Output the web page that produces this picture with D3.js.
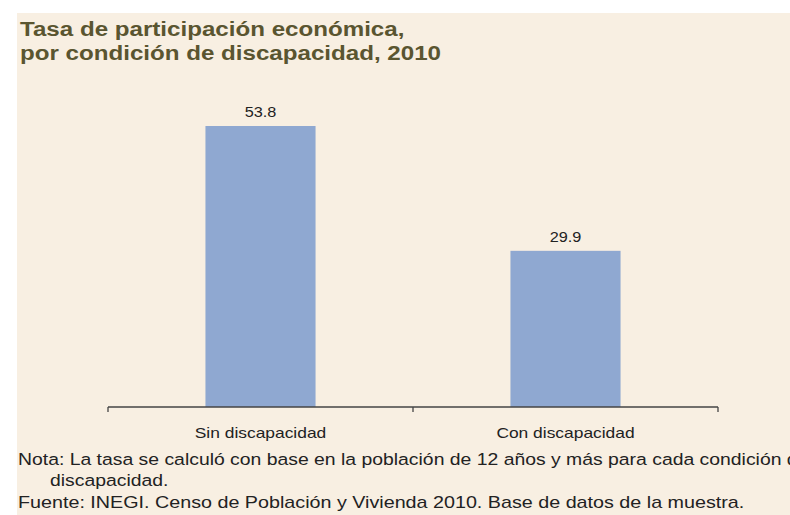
<!DOCTYPE html>
<html>
<head>
<meta charset="utf-8">
<script src="https://cdn.jsdelivr.net/npm/d3@7"></script>
<style>
	body { margin: 0; background: #ffffff; }
	svg { display: block; }
	text { font-family: "Liberation Sans", Arial, sans-serif; }
</style>
</head>
<body>
<div id="plot"></div>
<script>
var categories = ["Sin discapacidad", "Con discapacidad"];
var values = [53.8, 29.9];
var titleLines = ["Tasa de participación económica,", "por condición de discapacidad, 2010"];
var noteLines = ["Nota: La tasa se calculó con base en la población de 12 años y más para cada condición de", "discapacidad."];
var sourceLine = "Fuente: INEGI. Censo de Población y Vivienda 2010. Base de datos de la muestra.";

var w = 790;
var h = 515;
var baseY = 407;
var stretch = 1.16; // the original picture is a bit wider than tall

var xScale = d3.scaleBand()
			.domain(categories)
			.range([108, 718])
			.paddingInner(0.639)
			.paddingOuter(0.3195);

var yScale = d3.scaleLinear()
			.domain([0, 60])
			.range([baseY, baseY - 60 * 5.223]);

var place = function(x, y, s) {
	return "translate(" + x + "," + y + ") scale(" + (s || stretch) + ",1)";
}

var svgPlot = d3.select("#plot").append("svg").attr("width", w).attr("height", h);

// beige panel
svgPlot.append("rect")
	.attr("x", 17)
	.attr("y", 13)
	.attr("width", w - 17)
	.attr("height", h - 13)
	.attr("fill", "#f8efe2")

svgPlot.selectAll(".title")
	.data(titleLines)
	.enter()
	.append("text")
	.attr("class", "title")
	.attr("transform", function(d, i) { return place(20, 36 + i * 24, 1.15); })
	.attr("font-size", "21px")
	.attr("font-weight", "bold")
	.attr("fill", "#5a5530")
	.text(function(d) { return d; })

svgPlot.selectAll(".bar")
	.data(values)
	.enter()
	.append("rect")
	.attr("class", "bar")
	.attr("x", function(d, i) { return xScale(categories[i]); })
	.attr("y", function(d) { return yScale(d); })
	.attr("width", xScale.bandwidth())
	.attr("height", function(d) { return baseY - yScale(d); })
	.attr("fill", "#8fa8d1")

svgPlot.selectAll(".val")
	.data(values)
	.enter()
	.append("text")
	.attr("class", "val")
	.attr("transform", function(d, i) {
		return place(xScale(categories[i]) + xScale.bandwidth() / 2, yScale(d) - 9);
	})
	.attr("text-anchor", "middle")
	.attr("font-size", "14px")
	.attr("fill", "#222")
	.text(function(d) { return d.toFixed(1); })

// axis line with boundary ticks
var step = xScale.step();
var bounds = [108, 108 + step, 108 + 2 * step];
svgPlot.append("line")
	.attr("x1", 108).attr("x2", 718)
	.attr("y1", baseY).attr("y2", baseY)
	.attr("stroke", "#444")
	.attr("stroke-width", 1.3)
svgPlot.selectAll(".tick")
	.data(bounds)
	.enter()
	.append("line")
	.attr("class", "tick")
	.attr("x1", function(d) { return d; })
	.attr("x2", function(d) { return d; })
	.attr("y1", baseY)
	.attr("y2", baseY + 5)
	.attr("stroke", "#444")
	.attr("stroke-width", 1.3)

svgPlot.selectAll(".cat")
	.data(categories)
	.enter()
	.append("text")
	.attr("class", "cat")
	.attr("transform", function(d) { return place(xScale(d) + xScale.bandwidth() / 2, 438); })
	.attr("text-anchor", "middle")
	.attr("font-size", "15px")
	.attr("fill", "#222")
	.text(function(d) { return d; })

// the first note line runs past the right edge, as in the original
svgPlot.selectAll(".note")
	.data(noteLines)
	.enter()
	.append("text")
	.attr("class", "note")
	.attr("transform", function(d, i) { return place(i == 0 ? 18 : 50, 465 + i * 21, 1.14); })
	.attr("font-size", "17px")
	.attr("fill", "#222")
	.text(function(d) { return d; })

svgPlot.append("text")
	.attr("transform", place(18, 508))
	.attr("font-size", "17px")
	.attr("fill", "#222")
	.text(sourceLine)
</script>
</body>
</html>
